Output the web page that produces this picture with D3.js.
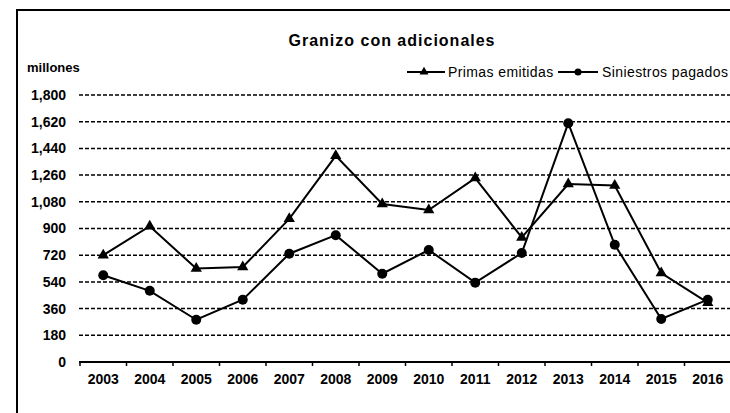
<!DOCTYPE html>
<html>
<head>
<meta charset="utf-8">
<script src="https://cdn.jsdelivr.net/npm/d3@7"></script>
<style>
  body { margin: 0; background: #fff; }
  svg { display: block; font-family: "Liberation Sans", Arial, sans-serif; }
</style>
</head>
<body>
<script>
'use strict';

// chart data
const years = ["2003", "2004", "2005", "2006", "2007", "2008", "2009",
               "2010", "2011", "2012", "2013", "2014", "2015", "2016"];
const primas = [720, 915, 630, 640, 965, 1390, 1065, 1025, 1240, 840, 1200, 1190, 600, 400];
const siniestros = [585, 480, 285, 420, 730, 855, 595, 755, 535, 735, 1610, 790, 290, 420];
const yTicks = [0, 180, 360, 540, 720, 900, 1080, 1260, 1440, 1620, 1800];

(function () {
  const W = 730, H = 413;
  const svg = d3.select("body").append("svg")
    .attr("width", W)
    .attr("height", H);

  // frame (top and left border)
  svg.append("path")
    .attr("d", "M17,413 V10 H730")
    .attr("fill", "none")
    .attr("stroke", "#000")
    .attr("stroke-width", 2);

  let x = d3.scaleBand()
    .domain(years)
    .range([80, 731]);

  let y = d3.scaleLinear()
    .domain([0, 1800])
    .range([362, 95]);

  // dashed gridlines
  svg.append("g")
    .selectAll("line")
    .data(yTicks.filter((d) => d > 0))
    .enter()
    .append("line")
    .attr("x1", 79)
    .attr("x2", W)
    .attr("y1", (d) => y(d))
    .attr("y2", (d) => y(d))
    .attr("stroke", "#000")
    .attr("stroke-width", 1.5)
    .attr("stroke-dasharray", "4,2");

  // y axis labels
  let yAxis = d3.axisLeft(y)
    .tickValues(yTicks)
    .tickFormat(d3.format(","))
    .tickSize(0)
    .tickPadding(0);
  let gy = svg.append("g")
    .attr("transform", "translate(66,0)")
    .call(yAxis);
  gy.select(".domain").remove();
  gy.selectAll("text")
    .attr("font-size", 14)
    .attr("font-weight", "bold")
    .attr("fill", "#000")
    .attr("font-family", "Liberation Sans, Arial, sans-serif");

  // x axis
  let xAxis = d3.axisBottom(x).tickSize(0).tickPadding(12);
  let gx = svg.append("g")
    .attr("transform", "translate(0,362)")
    .call(xAxis);
  gx.select(".domain").remove();
  gx.selectAll("text")
    .attr("font-size", 14)
    .attr("font-weight", "bold")
    .attr("fill", "#000")
    .attr("font-family", "Liberation Sans, Arial, sans-serif");

  svg.append("line")
    .attr("x1", 79).attr("x2", W)
    .attr("y1", 362).attr("y2", 362)
    .attr("stroke", "#000")
    .attr("stroke-width", 2);

  // small ticks between categories
  svg.append("g")
    .selectAll("line")
    .data(years)
    .enter()
    .append("line")
    .attr("x1", (d) => x(d))
    .attr("x2", (d) => x(d))
    .attr("y1", 362)
    .attr("y2", 366)
    .attr("stroke", "#000")
    .attr("stroke-width", 1.5);

  let cx = (d, i) => x(years[i]) + x.bandwidth() / 2;

  let line = d3.line()
    .x(cx)
    .y((d) => y(d));

  // series lines
  [primas, siniestros].forEach((s) => {
    svg.append("path")
      .datum(s)
      .attr("fill", "none")
      .attr("stroke", "#000")
      .attr("stroke-width", 2)
      .attr("d", line);
  });

  let tri = d3.symbol().type(d3.symbolTriangle).size(55);

  svg.append("g")
    .selectAll("path")
    .data(primas)
    .enter()
    .append("path")
    .attr("d", tri)
    .attr("transform", (d, i) => "translate(" + cx(d, i) + "," + y(d) + ")")
    .attr("fill", "#000");

  svg.append("g")
    .selectAll("circle")
    .data(siniestros)
    .enter()
    .append("circle")
    .attr("cx", cx)
    .attr("cy", (d) => y(d))
    .attr("r", 5)
    .attr("fill", "#000");

  // title
  svg.append("text")
    .attr("x", 392)
    .attr("y", 46)
    .attr("text-anchor", "middle")
    .attr("font-size", 16)
    .attr("font-weight", "bold")
    .attr("letter-spacing", 1)
    .text("Granizo con adicionales");

  // units label
  svg.append("text")
    .attr("x", 27)
    .attr("y", 72)
    .attr("font-size", 13)
    .attr("font-weight", "bold")
    .text("millones");

  // legend
  let lg = svg.append("g");
  lg.append("line")
    .attr("x1", 407).attr("x2", 445)
    .attr("y1", 72).attr("y2", 72)
    .attr("stroke", "#000").attr("stroke-width", 2);
  lg.append("path")
    .attr("d", d3.symbol().type(d3.symbolTriangle).size(35))
    .attr("transform", "translate(424,72)");
  lg.append("text")
    .attr("x", 448).attr("y", 77)
    .attr("font-size", 14)
    .attr("letter-spacing", 0.4)
    .text("Primas emitidas");

  lg.append("line")
    .attr("x1", 558).attr("x2", 598)
    .attr("y1", 72).attr("y2", 72)
    .attr("stroke", "#000").attr("stroke-width", 2);
  lg.append("circle")
    .attr("cx", 578).attr("cy", 72).attr("r", 3.5);
  lg.append("text")
    .attr("x", 602).attr("y", 77)
    .attr("font-size", 14)
    .attr("letter-spacing", 0.4)
    .text("Siniestros pagados");
})();
</script>
</body>
</html>
